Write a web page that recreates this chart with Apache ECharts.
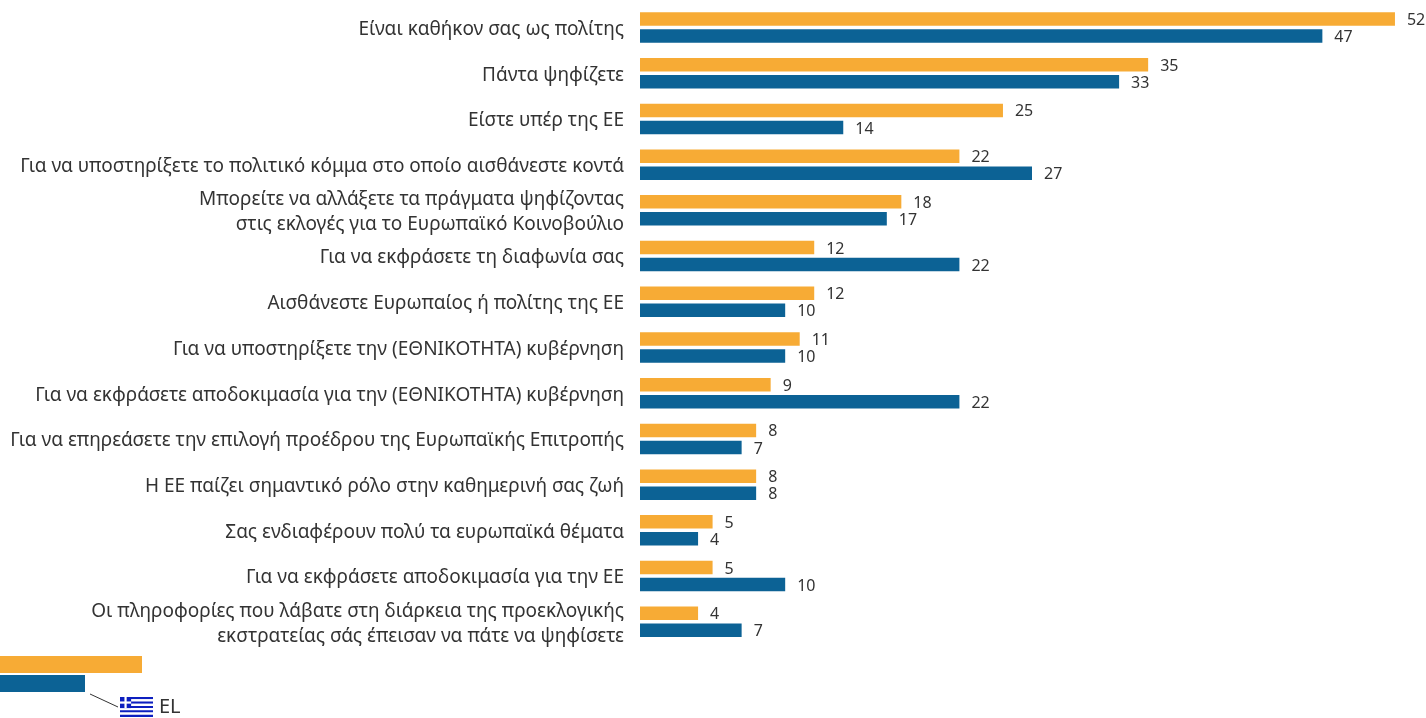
<!DOCTYPE html>
<html><head><meta charset="utf-8">
<style>html,body{margin:0;padding:0;background:#fff}#c{width:1426px;height:718px}</style>
<script src="https://cdn.jsdelivr.net/npm/echarts@6/dist/echarts.min.js"></script>
</head><body><div id="c"></div>
<script>
const categories = [
 "Είναι καθήκον σας ως πολίτης",
 "Πάντα ψηφίζετε",
 "Είστε υπέρ της ΕΕ",
 "Για να υποστηρίξετε το πολιτικό κόμμα στο οποίο αισθάνεστε κοντά",
 "Μπορείτε να αλλάξετε τα πράγματα ψηφίζοντας\nστις εκλογές για το Ευρωπαϊκό Κοινοβούλιο",
 "Για να εκφράσετε τη διαφωνία σας",
 "Αισθάνεστε Ευρωπαίος ή πολίτης της ΕΕ",
 "Για να υποστηρίξετε την (ΕΘΝΙΚΟΤΗΤΑ) κυβέρνηση",
 "Για να εκφράσετε αποδοκιμασία για την (ΕΘΝΙΚΟΤΗΤΑ) κυβέρνηση",
 "Για να επηρεάσετε την επιλογή προέδρου της Ευρωπαϊκής Επιτροπής",
 "Η ΕΕ παίζει σημαντικό ρόλο στην καθημερινή σας ζωή",
 "Σας ενδιαφέρουν πολύ τα ευρωπαϊκά θέματα",
 "Για να εκφράσετε αποδοκιμασία για την ΕΕ",
 "Οι πληροφορίες που λάβατε στη διάρκεια της προεκλογικής\nεκστρατείας σάς έπεισαν να πάτε να ψηφίσετε"
];
const seriesOrange = [52,35,25,22,18,12,12,11,9,8,8,5,5,4];
const seriesBlue   = [47,33,14,27,17,22,10,10,22,7,8,4,10,7];
const legendCode = "EL";
const ORANGE = "#F7AB35", BLUE = "#0C6295", TEXT = "#333333", FONT = "'Noto Sans', sans-serif";

function bar(name, data, color){
  return {
    type:"bar", name, data, barWidth:13.5, barGap:"26%",
    itemStyle:{color}, silent:true,
    label:{show:true, position:"right", distance:12, offset:[0,1.5], color:TEXT, fontSize:16, fontFamily:FONT},
    animation:false
  };
}
// Greek flag
const flag = [];
const fx=120, fy=697, fw=33, sh=20/9;
for(let i=0;i<9;i++){
  flag.push({type:"rect",shape:{x:fx,y:fy+i*sh,width:fw,height:sh},style:{fill:i%2?"#fff":"#0D1FBF"},silent:true});
}
flag.push({type:"rect",shape:{x:fx,y:fy,width:sh*5,height:sh*5},style:{fill:"#0D1FBF"},silent:true});
flag.push({type:"rect",shape:{x:fx+sh*2,y:fy,width:sh,height:sh*5},style:{fill:"#fff"},silent:true});
flag.push({type:"rect",shape:{x:fx,y:fy+sh*2,width:sh*5,height:sh},style:{fill:"#fff"},silent:true});

const chart = echarts.init(document.getElementById("c"),null,{renderer:"canvas"});
chart.setOption({
  animation:false,
  backgroundColor:"#fff",
  grid:{left:640,top:4.65,width:784,height:640,containLabel:false},
  xAxis:{type:"value",min:0,max:54,show:false},
  yAxis:{type:"category",inverse:true,data:categories,
    axisLine:{show:false},axisTick:{show:false},splitLine:{show:false},
    axisLabel:{margin:16,align:"right",interval:0,
      formatter:v=>v.split("\n").map(s=>"{a|"+s+"}").join("\n"),
      rich:{a:{color:TEXT,fontSize:19,lineHeight:25,padding:[4,0,0,0],fontFamily:FONT,align:"right"}}}},
  series:[bar("a",seriesOrange,ORANGE),bar("b",seriesBlue,BLUE)],
  graphic:[
    {type:"rect",shape:{x:0,y:656,width:142,height:17},style:{fill:ORANGE},silent:true},
    {type:"rect",shape:{x:0,y:675,width:85,height:17},style:{fill:BLUE},silent:true},
    {type:"line",shape:{x1:90,y1:694,x2:118,y2:707},style:{stroke:"#333",lineWidth:1},silent:true},
    ...flag,
    {type:"text",x:159,y:697,style:{text:legendCode,fill:TEXT,fontSize:20,fontFamily:FONT},silent:true}
  ]
});
</script></body></html>
